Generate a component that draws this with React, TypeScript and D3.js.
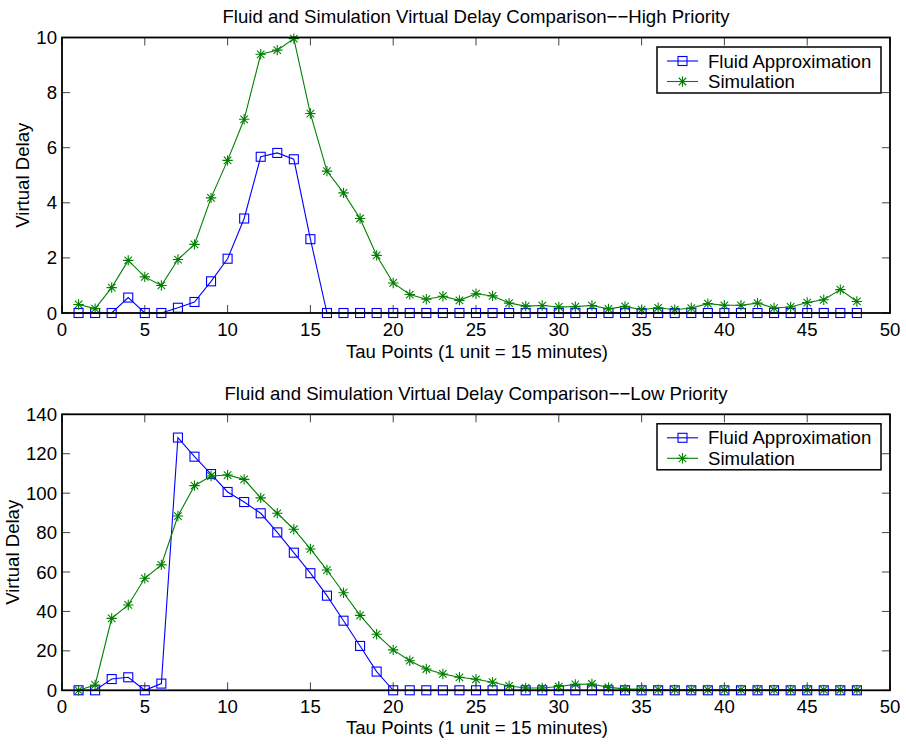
import React from "react";
import * as d3 from "d3";

// Tau points 1..48 (1 unit = 15 minutes)
const tauPoints = d3.range(1, 49);

// High priority virtual delay
const highFluid = [
  0, 0, 0, 0.56, 0, 0, 0.19, 0.4, 1.15, 1.97, 3.43, 5.67, 5.81, 5.58, 2.68, 0,
  0, 0, 0, 0, 0, 0, 0, 0, 0, 0, 0, 0, 0, 0, 0, 0,
  0, 0, 0, 0, 0, 0, 0, 0, 0, 0, 0, 0, 0, 0, 0, 0,
];
const highSim = [
  0.31, 0.16, 0.92, 1.91, 1.31, 1.0, 1.94, 2.49, 4.18, 5.54, 7.03, 9.39, 9.54, 9.96, 7.24, 5.15,
  4.36, 3.43, 2.09, 1.09, 0.67, 0.5, 0.61, 0.46, 0.7, 0.62, 0.36, 0.25, 0.27, 0.22, 0.23, 0.27,
  0.15, 0.24, 0.12, 0.19, 0.12, 0.18, 0.34, 0.28, 0.28, 0.36, 0.18, 0.22, 0.38, 0.48, 0.85, 0.42,
];

// Low priority virtual delay
const lowFluid = [
  0, 0, 5.7, 6.6, 0, 3.4, 128.2, 118.5, 109.7, 100.6, 95.5, 89.8, 80.1, 69.8, 59.4, 48.0,
  35.3, 22.5, 9.5, 0, 0, 0, 0, 0, 0, 0, 0, 0, 0, 0, 0, 0,
  0, 0, 0, 0, 0, 0, 0, 0, 0, 0, 0, 0, 0, 0, 0, 0,
];
const lowSim = [
  0, 2.7, 36.5, 43.3, 56.8, 63.6, 88.4, 103.8, 108.7, 109.2, 107.0, 97.6, 89.8, 81.7, 71.7, 61.0,
  49.5, 38.0, 28.4, 20.5, 15.0, 10.8, 8.3, 6.6, 5.6, 4.1, 2.2, 1.2, 1.2, 1.9, 3.0, 3.2,
  1.5, 0.7, 0.5, 0.3, 0.3, 0.2, 0.2, 0.2, 0.2, 0.2, 0.2, 0.2, 0.2, 0.2, 0.2, 0.2,
];

const xTicks = [0, 5, 10, 15, 20, 25, 30, 35, 40, 45, 50];
const highYTicks = [0, 2, 4, 6, 8, 10];
const lowYTicks = [0, 20, 40, 60, 80, 100, 120, 140];

const seriesNames = ["Fluid Approximation", "Simulation"];
const titles = [
  "Fluid and Simulation Virtual Delay Comparison\u2212\u2212High Priority",
  "Fluid and Simulation Virtual Delay Comparison\u2212\u2212Low Priority",
];
const xLabel = "Tau Points (1 unit = 15 minutes)";
const yLabel = "Virtual Delay";

const BLUE = "#0000ff";
const GREEN = "#008000";
const FONT = "'Liberation Sans', Arial, Helvetica, sans-serif";
const FS = 18.6;

const W = 906;
const H = 745;
const LEFT = 62;
const RIGHT = 890;
const TICK = 8;

function starPath(r: number) {
  const d = r * 0.72;
  return `M${-r},0L${r},0M0,${-r}L0,${r}M${-d},${-d}L${d},${d}M${-d},${d}L${d},${-d}`;
}

function Marker({ kind, x, y, color }: { kind: "square" | "star"; x: number; y: number; color: string }) {
  if (kind === "square") {
    return <rect x={x - 4.5} y={y - 4.5} width={9} height={9} fill="none" stroke={color} strokeWidth={1.1} />;
  }
  return <path d={starPath(5.2)} transform={`translate(${x},${y})`} fill="none" stroke={color} strokeWidth={1.1} />;
}

function Panel({
  top,
  bottom,
  yMax,
  yTicks,
  fluid,
  sim,
  title,
  titleY,
  xLabelY,
  yLabelX,
}: {
  top: number;
  bottom: number;
  yMax: number;
  yTicks: number[];
  fluid: number[];
  sim: number[];
  title: string;
  titleY: number;
  xLabelY: number;
  yLabelX: number;
}) {
  const x = d3.scaleLinear().domain([0, 50]).range([LEFT, RIGHT]);
  const y = d3.scaleLinear().domain([0, yMax]).range([bottom, top]);
  const line = d3
    .line<number>()
    .x((_, i) => x(tauPoints[i]))
    .y((v) => y(v));
  const cx = (LEFT + RIGHT) / 2;
  const cy = (top + bottom) / 2;
  const series = [
    { name: seriesNames[0], values: fluid, color: BLUE, kind: "square" as const },
    { name: seriesNames[1], values: sim, color: GREEN, kind: "star" as const },
  ];
  const lgX = 657;
  const lgY = top + 9.5;
  return (
    <g>
      {/* ticks on all four sides, pointing inward */}
      {xTicks.map((t) => (
        <g key={"xt" + t} stroke="#444" strokeWidth={1}>
          <line x1={x(t)} x2={x(t)} y1={bottom} y2={bottom - TICK} />
          <line x1={x(t)} x2={x(t)} y1={top} y2={top + TICK} />
        </g>
      ))}
      {yTicks.map((t) => (
        <g key={"yt" + t} stroke="#444" strokeWidth={1}>
          <line x1={LEFT} x2={LEFT + TICK} y1={y(t)} y2={y(t)} />
          <line x1={RIGHT} x2={RIGHT - TICK} y1={y(t)} y2={y(t)} />
        </g>
      ))}
      {series.map((s) => (
        <g key={s.name}>
          <path d={line(s.values) || ""} fill="none" stroke={s.color} strokeWidth={1.1} />
          {s.values.map((v, i) => (
            <Marker key={i} kind={s.kind} x={x(tauPoints[i])} y={y(v)} color={s.color} />
          ))}
        </g>
      ))}
      <rect x={LEFT} y={top} width={RIGHT - LEFT} height={bottom - top} fill="none" stroke="#000" strokeWidth={1.8} />
      {xTicks.map((t) => (
        <text key={"xl" + t} x={x(t)} y={bottom + 22.5} textAnchor="middle" fontSize={FS} fontFamily={FONT} fill="#000">
          {t}
        </text>
      ))}
      {yTicks.map((t) => (
        <text
          key={"yl" + t}
          x={LEFT - 5}
          y={y(t)}
          dy="0.35em"
          textAnchor="end"
          fontSize={FS}
          fontFamily={FONT}
          fill="#000"
        >
          {t}
        </text>
      ))}
      <text x={cx} y={titleY} textAnchor="middle" fontSize={FS} fontFamily={FONT} fill="#000">
        {title}
      </text>
      <text x={cx + 1} y={xLabelY} textAnchor="middle" fontSize={FS} fontFamily={FONT} fill="#000">
        {xLabel}
      </text>
      <text
        transform={`translate(${yLabelX},${cy}) rotate(-90)`}
        textAnchor="middle"
        fontSize={FS}
        fontFamily={FONT}
        fill="#000"
      >
        {yLabel}
      </text>
      {/* legend */}
      <rect x={lgX} y={lgY} width={224} height={46} fill="#fff" stroke="#000" strokeWidth={1.5} />
      {series.map((s, i) => {
        const ly = lgY + 14 + i * 20.5;
        return (
          <g key={"lg" + s.name}>
            <line x1={667} x2={698} y1={ly} y2={ly} stroke={s.color} strokeWidth={1.1} />
            <Marker kind={s.kind} x={682.5} y={ly} color={s.color} />
            <text x={708} y={ly} dy="0.35em" fontSize={FS} fontFamily={FONT} fill="#000">
              {s.name}
            </text>
          </g>
        );
      })}
    </g>
  );
}

export default function App() {
  return (
    <svg width={W} height={H} style={{ display: "block", position: "absolute", left: 0, top: 0, background: "#fff" }}>
      <rect width={W} height={H} fill="#fff" />
      <Panel
        top={37.5}
        bottom={313}
        yMax={10}
        yTicks={highYTicks}
        fluid={highFluid}
        sim={highSim}
        title={titles[0]}
        titleY={23}
        xLabelY={357.5}
        yLabelX={29}
      />
      <Panel
        top={414.3}
        bottom={690.3}
        yMax={140}
        yTicks={lowYTicks}
        fluid={lowFluid}
        sim={lowSim}
        title={titles[1]}
        titleY={400}
        xLabelY={733.5}
        yLabelX={19}
      />
    </svg>
  );
}
